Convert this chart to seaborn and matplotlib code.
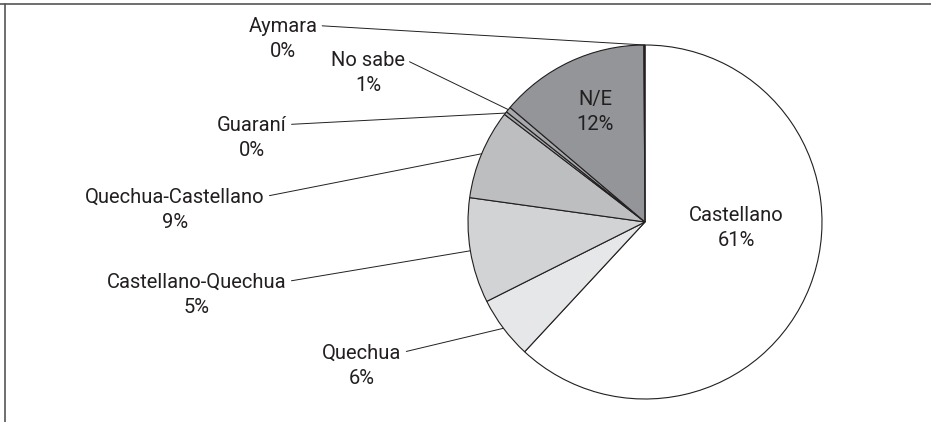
import matplotlib
matplotlib.use("Agg")
import matplotlib.pyplot as plt
import seaborn as sns
import numpy as np
from matplotlib import font_manager
from matplotlib.lines import Line2D

# slice shares as drawn in the picture (clockwise from the top)
languages = ["Castellano", "Quechua", "Castellano-Quechua", "Quechua-Castellano",
             "Guaraní", "No sabe", "N/E", "Aymara"]
shares = [61.9, 5.7, 9.6, 8.2, 0.3, 0.5, 13.7, 0.1]
# percentages as printed on the labels
pct_labels = ["61%", "6%", "5%", "9%", "0%", "1%", "12%", "0%"]
colors = ["#ffffff", "#e6e7e8", "#d1d3d4", "#bcbec0",
          "#a7a9ac", "#a7a9ac", "#939598", "#939598"]

sns.set_theme(style="white")
fams = []
for f in ["Liberation Sans Narrow", "DejaVu Sans Condensed", "Roboto", "DejaVu Sans"]:
    try:
        font_manager.findfont(f, fallback_to_default=False)
        fams.append(f)
    except Exception:
        pass
plt.rcParams["font.family"] = fams
txt_color = "#231f20"

W, H = 931, 422
fig = plt.figure(figsize=(W / 100, H / 100), dpi=100)
ax = fig.add_axes([0, 0, 1, 1])

# pixel layout: pie centre and radius
cx, cy, R = 645, 222, 177


def px(x, y):
    return (x - cx) / R, (cy - y) / R


wedges, _ = ax.pie(shares, colors=colors, startangle=90, counterclock=False,
                   radius=1, wedgeprops=dict(edgecolor="#231f20", linewidth=0.8))
ax.set_xlim((0 - cx) / R, (W - cx) / R)
ax.set_ylim((cy - H) / R, cy / R)
ax.set_aspect("auto")
ax.axis("off")

fs = 14.5
# outside labels: (index, centre x px, name baseline px)
outside = [(7, 283, 32), (5, 368, 66), (4, 252, 131),
           (3, 175, 203), (2, 197, 288), (1, 362, 359)]
for i, x, yb in outside:
    w = wedges[i]
    mid = np.deg2rad((w.theta1 + w.theta2) / 2)
    anchor = (np.cos(mid), np.sin(mid))
    ax.annotate(languages[i], xy=anchor, xytext=px(x, yb),
                ha="center", va="baseline", fontsize=fs, color=txt_color,
                arrowprops=dict(arrowstyle="-", color="#231f20", lw=0.7,
                                relpos=(1, 0.55), shrinkA=1, shrinkB=0))
    ax.text(*px(x, yb + 25), pct_labels[i], ha="center", va="baseline",
            fontsize=fs, color=txt_color)

# inside labels
for i, x, yb in [(6, 595, 105), (0, 736, 221)]:
    ax.text(*px(x, yb), languages[i], ha="center", va="baseline",
            fontsize=fs, color=txt_color)
    ax.text(*px(x, yb + 25), pct_labels[i], ha="center", va="baseline",
            fontsize=fs, color=txt_color)

# cropped frame: top and left edges
fig.add_artist(Line2D([0, 1], [1 - 4.3 / H] * 2, transform=fig.transFigure,
                      color="#555555", lw=1.2))
fig.add_artist(Line2D([5 / W] * 2, [0, 1 - 4.3 / H], transform=fig.transFigure,
                      color="#555555", lw=1.2))

fig.savefig("out.png", dpi=100)
